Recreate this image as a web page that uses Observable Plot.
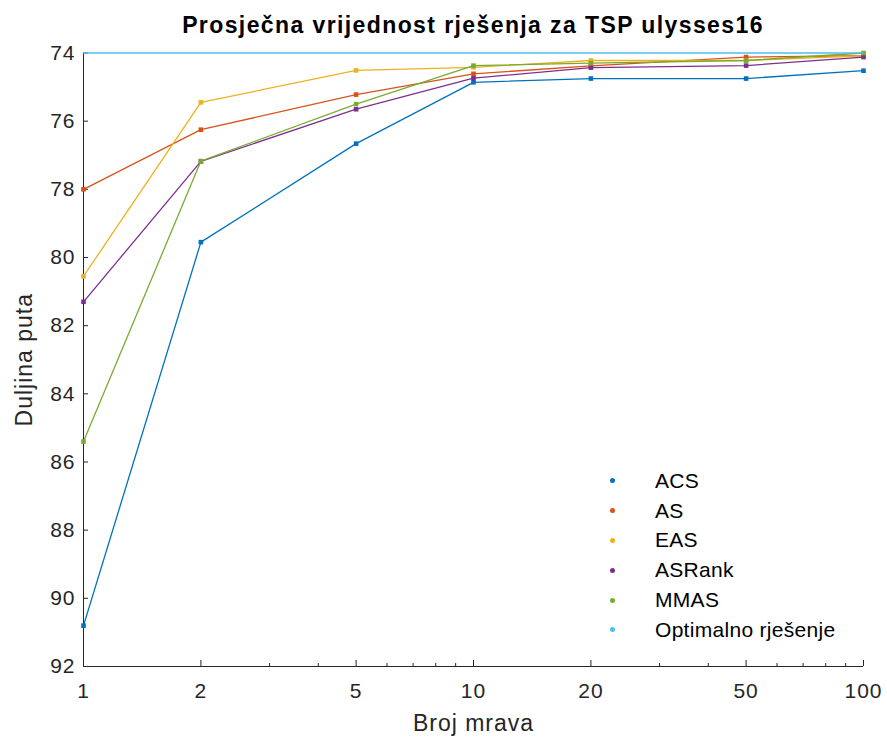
<!DOCTYPE html>
<html>
<head>
<meta charset="utf-8">
<script src="https://cdn.jsdelivr.net/npm/d3@7"></script>
<script src="https://cdn.jsdelivr.net/npm/@observablehq/plot@0.6"></script>
<style>
  html, body { margin: 0; padding: 0; background: #fff; }
  #wrap { position: relative; width: 887px; height: 743px; font-family: "Liberation Sans", Arial, sans-serif; color: #262626; }
  #title { box-sizing: border-box; height: 40px; padding-top: 13px; line-height: 24px; margin-left: 83px; width: 780px;
           text-align: center; font-weight: bold; font-size: 23px; letter-spacing: 1.4px; color: #000; }
  #legend { position: absolute; left: 600px; top: 466px; }
  .item { height: 29.8px; display: flex; align-items: center; font-size: 21px; letter-spacing: 0.3px; color: #000; }
  .mk { width: 5px; height: 5px; border-radius: 50%; margin-left: 10px; margin-right: 40px; }
</style>
</head>
<body>
<div id="wrap">
  <div id="title"></div>
  <div id="chart"></div>
  <div id="legend"></div>
</div>
<script>
const titleText = "Prosječna vrijednost rješenja za TSP ulysses16";
const xLabel = "Broj mrava";
const yLabel = "Duljina puta";

const antCounts = [1, 2, 5, 10, 20, 50, 100];
const seriesNames = ["ACS", "AS", "EAS", "ASRank", "MMAS", "Optimalno rješenje"];
const acs     = [90.80, 79.55, 76.66, 74.86, 74.75, 74.75, 74.52];
const as      = [78.00, 76.25, 75.22, 74.61, 74.38, 74.12, 74.08];
const eas     = [80.55, 75.45, 74.51, 74.42, 74.22, 74.22, 74.08];
const asrank  = [81.30, 77.18, 75.65, 74.74, 74.43, 74.37, 74.12];
const mmas    = [85.40, 77.17, 75.50, 74.37, 74.30, 74.22, 74.00];
const optimal = [74, 74, 74, 74, 74, 74, 74];
const colors = ["#0072BD", "#D95319", "#EDB120", "#7E2F8E", "#77AC30", "#4DBEEE"];

const xTicks = [1, 2, 5, 10, 20, 50, 100];
const xMinorTicks = [3, 4, 6, 7, 8, 9, 30, 40, 60, 70, 80, 90];
const yTicks = [74, 76, 78, 80, 82, 84, 86, 88, 90, 92];

const seriesValues = [acs, as, eas, asrank, mmas, optimal];
const data = seriesNames.flatMap((name, i) =>
  antCounts.map((x, j) => ({series: name, x, y: seriesValues[i][j]})));

const seriesMarks = seriesNames.flatMap((name, i) => {
  const rows = data.filter(d => d.series === name);
  const marks = [Plot.line(rows, {x: "x", y: "y", stroke: colors[i], strokeWidth: 1.3})];
  if (name !== "Optimalno rješenje") {
    marks.push(Plot.dot(rows, {x: "x", y: "y", fill: colors[i], symbol: "square", r: 2.6}));
  }
  return marks;
});

document.getElementById("title").textContent = titleText;

const chart = Plot.plot({
  width: 887,
  height: 703,
  marginTop: 12.5,
  marginBottom: 77,
  marginLeft: 83,
  marginRight: 24,
  style: "font-family: 'Liberation Sans', Arial, sans-serif; font-size: 21px; letter-spacing: 1px; color: #262626; background: #fff; overflow: visible;",
  x: {type: "log", domain: [1, 100]},
  y: {domain: [74, 92], reverse: true},
  marks: [
    Plot.ruleX([1], {stroke: "#262626"}),
    Plot.ruleY([92], {stroke: "#262626"}),
    Plot.axisY({ticks: yTicks, tickSize: -5, tickPadding: 13, label: null, color: "#262626", tickFormat: d => String(d)}),
    Plot.axisX({ticks: xTicks, tickSize: -6, tickPadding: 23, label: null, color: "#262626", tickFormat: d => String(d)}),
    Plot.axisX({ticks: xMinorTicks, tickSize: -3, label: null, color: "#262626", tickFormat: () => ""}),
    ...seriesMarks,
    Plot.text([yLabel], {frameAnchor: "left", dx: -59, rotate: -90, textAnchor: "middle", lineAnchor: "middle", fontSize: 23, letterSpacing: 1.2, fill: "#262626"}),
    Plot.text([xLabel], {frameAnchor: "bottom", dy: 57, textAnchor: "middle", lineAnchor: "middle", fontSize: 23, fill: "#262626"})
  ]
});
document.getElementById("chart").appendChild(chart);

const legend = document.getElementById("legend");
seriesNames.forEach((name, i) => {
  const item = document.createElement("div");
  item.className = "item";
  const mk = document.createElement("span");
  mk.className = "mk";
  mk.style.background = colors[i];
  const label = document.createElement("span");
  label.textContent = name;
  item.appendChild(mk);
  item.appendChild(label);
  legend.appendChild(item);
});
</script>
</body>
</html>
